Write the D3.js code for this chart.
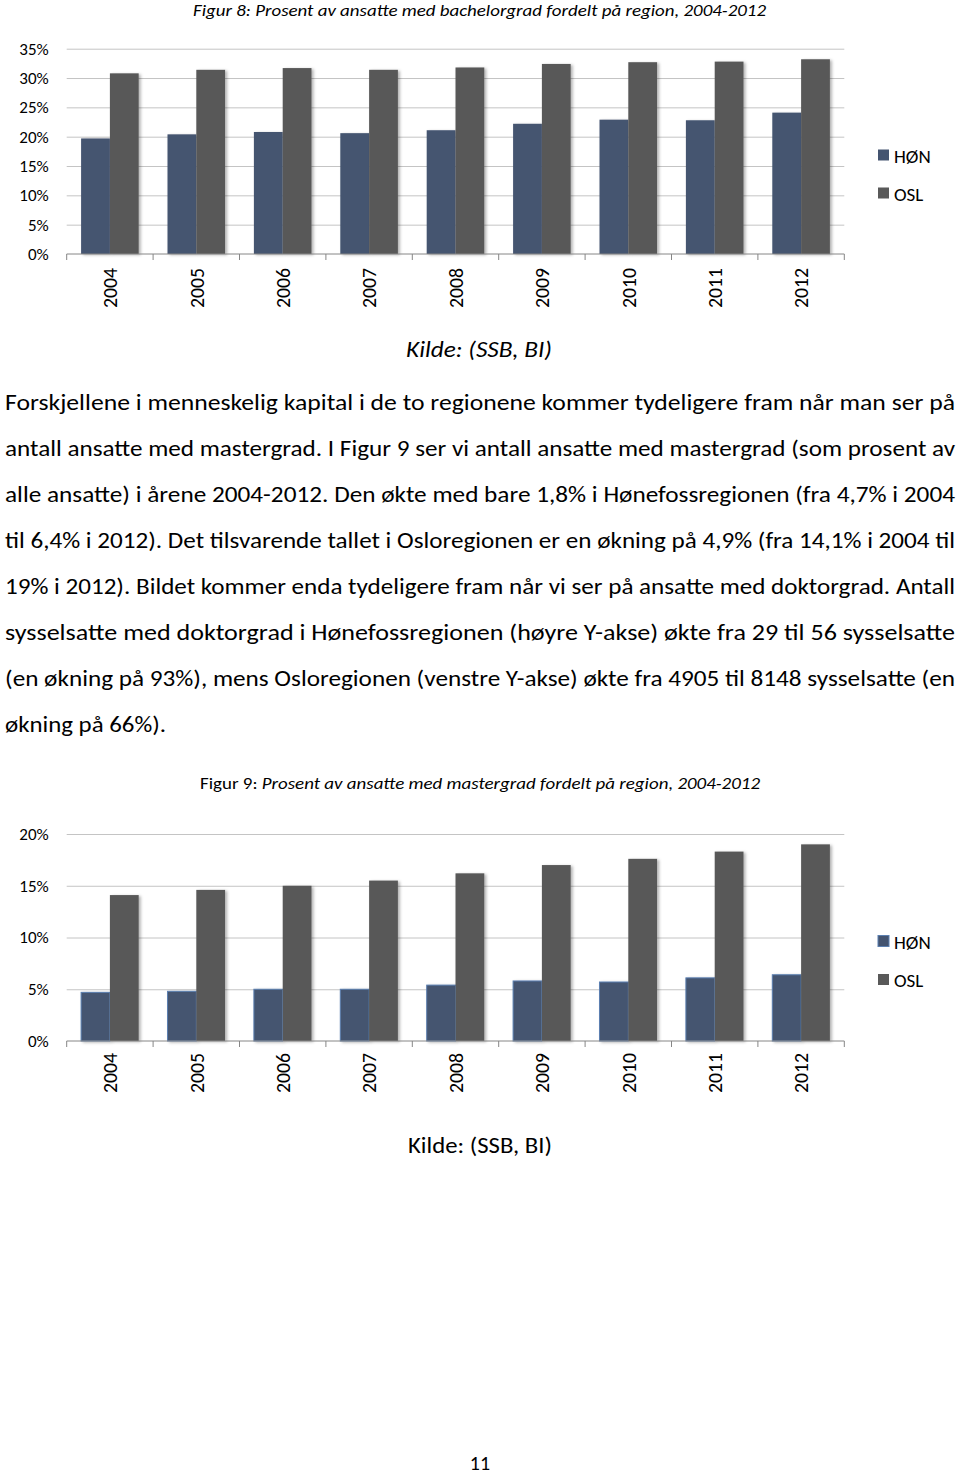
<!DOCTYPE html>
<html>
<head>
<meta charset="utf-8">
<script src="https://cdn.jsdelivr.net/npm/d3@7"></script>
<style>
  html, body { margin: 0; padding: 0; background: #fff; }
  svg { display: block; }
  text { font-family: Carlito, Lato, "Open Sans", sans-serif; fill: #000; }
</style>
</head>
<body>
<svg id="page" width="960" height="1476"></svg>
<script>
// ---------- data ----------
const years = ["2004","2005","2006","2007","2008","2009","2010","2011","2012"];
const seriesNames = ["HØN","OSL"];
// Figur 8: bachelorgrad (%)
const bachelorHON = [19.7, 20.4, 20.8, 20.6, 21.1, 22.2, 22.9, 22.8, 24.1];
const bachelorOSL = [30.8, 31.4, 31.7, 31.4, 31.8, 32.4, 32.7, 32.8, 33.2];
// Figur 9: mastergrad (%)
const masterHON = [4.7, 4.8, 5.0, 5.0, 5.4, 5.8, 5.7, 6.1, 6.4];
const masterOSL = [14.1, 14.6, 15.0, 15.5, 16.2, 17.0, 17.6, 18.3, 19.0];
const ticksFig8 = [0, 5, 10, 15, 20, 25, 30, 35];
const ticksFig9 = [0, 5, 10, 15, 20];

const title8 = "Figur 8: Prosent av ansatte med bachelorgrad fordelt på region, 2004-2012";
const title9a = "Figur 9: ";
const title9b = "Prosent av ansatte med mastergrad fordelt på region, 2004-2012";
const source = "Kilde: (SSB, BI)";
const paragraph = [
  "Forskjellene i menneskelig kapital i de to regionene kommer tydeligere fram når man ser på",
  "antall ansatte med mastergrad. I Figur 9 ser vi antall ansatte med mastergrad (som prosent av",
  "alle ansatte) i årene 2004-2012. Den økte med bare 1,8% i Hønefossregionen (fra 4,7% i 2004",
  "til 6,4% i 2012). Det tilsvarende tallet i Osloregionen er en økning på 4,9% (fra 14,1% i 2004 til",
  "19% i 2012). Bildet kommer enda tydeligere fram når vi ser på ansatte med doktorgrad. Antall",
  "sysselsatte med doktorgrad i Hønefossregionen (høyre Y-akse) økte fra 29 til 56 sysselsatte",
  "(en økning på 93%), mens Osloregionen (venstre Y-akse) økte fra 4905 til 8148 sysselsatte (en",
  "økning på 66%)."
];
const pageNumber = "11";

// ---------- style ----------
const colors = { "HØN": "#445470", "OSL": "#595959" };
const svg = d3.select("#page");

const defs = svg.append("defs");
const f = defs.append("filter").attr("id","shadow").attr("x","-20%").attr("y","-5%").attr("width","150%").attr("height","115%");
f.append("feDropShadow").attr("dx",2).attr("dy",1).attr("stdDeviation",1.5).attr("flood-color","#000").attr("flood-opacity",0.3);

function drawChart(opts) {
  const {top, bottom, left, right, max, ticks, hon, osl, labelGap, honStroke, legendY} = opts;
  const g = svg.append("g");
  const x0 = d3.scaleBand().domain(years).range([left, right]).paddingInner(0).paddingOuter(0);
  const x1 = d3.scaleBand().domain(seriesNames).range([0, x0.bandwidth()]).paddingInner(0).paddingOuter(0.5);
  const y = d3.scaleLinear().domain([0, max]).range([bottom, top]);

  // gridlines + y labels
  const yAxis = d3.axisLeft(y).tickValues(ticks).tickFormat(d => d + "%")
      .tickSize(-(right - left)).tickPadding(18);
  const ya = g.append("g").attr("transform", `translate(${left},0)`).call(yAxis);
  ya.select(".domain").remove();
  ya.selectAll(".tick line").attr("stroke", "#c4c4c4").attr("stroke-width", 1)
    .filter(d => d === 0).remove();
  ya.selectAll(".tick text").attr("font-size", 17).attr("fill", "#404040")
    .style("font-family", "Carlito, Lato, sans-serif");

  // bars
  const rows = years.map((yr, i) => ({year: yr, vals: [
    {s: "HØN", v: hon[i]}, {s: "OSL", v: osl[i]}]}));
  const grp = g.selectAll("g.cat").data(rows).join("g").attr("class","cat")
    .attr("transform", d => `translate(${x0(d.year)},0)`);
  grp.selectAll("rect").data(d => d.vals).join("rect")
    .attr("x", d => x1(d.s))
    .attr("y", d => y(d.v))
    .attr("width", x1.bandwidth())
    .attr("height", d => y(0) - y(d.v))
    .attr("fill", d => colors[d.s])
    .attr("filter", "url(#shadow)")
    .attr("stroke", d => (honStroke && d.s === "HØN") ? "#5b7fb0" : "none")
    .attr("stroke-width", 1);

  // x axis line and boundary ticks
  g.append("line").attr("x1", left).attr("x2", right).attr("y1", y(0)).attr("y2", y(0))
    .attr("stroke", "#868686").attr("stroke-width", 1);
  const bounds = years.map(d => x0(d)).concat([right]);
  g.selectAll("line.bt").data(bounds).join("line").attr("class","bt")
    .attr("x1", d => d).attr("x2", d => d).attr("y1", y(0)).attr("y2", y(0) + 6)
    .attr("stroke", "#868686").attr("stroke-width", 1);

  // x labels (rotated)
  g.selectAll("text.xl").data(years).join("text").attr("class","xl")
    .attr("transform", d => `translate(${x0(d) + x0.bandwidth()/2},${y(0) + labelGap}) rotate(-90)`)
    .attr("text-anchor", "end").attr("dy", "0.36em")
    .attr("font-size", 20).attr("fill", "#000")
    .attr("textLength", 40).attr("lengthAdjust", "spacingAndGlyphs")
    .text(d => d);

  // legend
  const lg = g.append("g");
  seriesNames.forEach((s, i) => {
    const ly = legendY[i];
    lg.append("rect").attr("x", 878).attr("y", ly - 6).attr("width", 11).attr("height", 11)
      .attr("fill", colors[s])
      .attr("stroke", (honStroke && s === "HØN") ? "#5b7fb0" : "none");
    lg.append("text").attr("x", 894).attr("y", ly + 7).attr("font-size", 19).attr("fill", "#000").text(s);
  });
}

// ---------- Figur 8 ----------
svg.append("text").attr("x", 479.5).attr("y", 16).attr("text-anchor", "middle")
  .attr("font-size", 17).attr("font-style", "italic")
  .attr("textLength", 573).attr("lengthAdjust", "spacingAndGlyphs").text(title8);

drawChart({top: 48.7, bottom: 254, left: 66.7, right: 844.3, max: 35, ticks: ticksFig8,
  hon: bachelorHON, osl: bachelorOSL, labelGap: 14, honStroke: false, legendY: [155.5, 193.5]});

svg.append("text").attr("x", 479).attr("y", 357).attr("text-anchor", "middle")
  .attr("font-size", 22).attr("font-style", "italic")
  .attr("textLength", 146).attr("lengthAdjust", "spacingAndGlyphs").text(source);

// ---------- paragraph ----------
const baselines = [410, 456, 502, 548, 594, 640, 686, 732];
svg.selectAll("text.para").data(paragraph).join("text").attr("class","para")
  .attr("x", 5).attr("y", (d, i) => baselines[i])
  .attr("font-size", 22)
  .attr("textLength", (d, i) => i === paragraph.length - 1 ? 161 : 950)
  .attr("lengthAdjust", "spacingAndGlyphs")
  .text(d => d);

// ---------- Figur 9 ----------
const t9 = svg.append("text").attr("x", 480).attr("y", 789).attr("text-anchor", "middle")
  .attr("font-size", 17).attr("textLength", 560).attr("lengthAdjust", "spacingAndGlyphs");
t9.append("tspan").text(title9a);
t9.append("tspan").attr("font-style", "italic").text(title9b);

drawChart({top: 834, bottom: 1041, left: 66.7, right: 844.3, max: 20, ticks: ticksFig9,
  hon: masterHON, osl: masterOSL, labelGap: 12, honStroke: true, legendY: [941.5, 980]});

svg.append("text").attr("x", 480).attr("y", 1153).attr("text-anchor", "middle")
  .attr("font-size", 22)
  .attr("textLength", 144).attr("lengthAdjust", "spacingAndGlyphs").text(source);

svg.append("text").attr("x", 480).attr("y", 1470).attr("text-anchor", "middle")
  .attr("font-size", 20).text(pageNumber);
</script>
</body>
</html>
